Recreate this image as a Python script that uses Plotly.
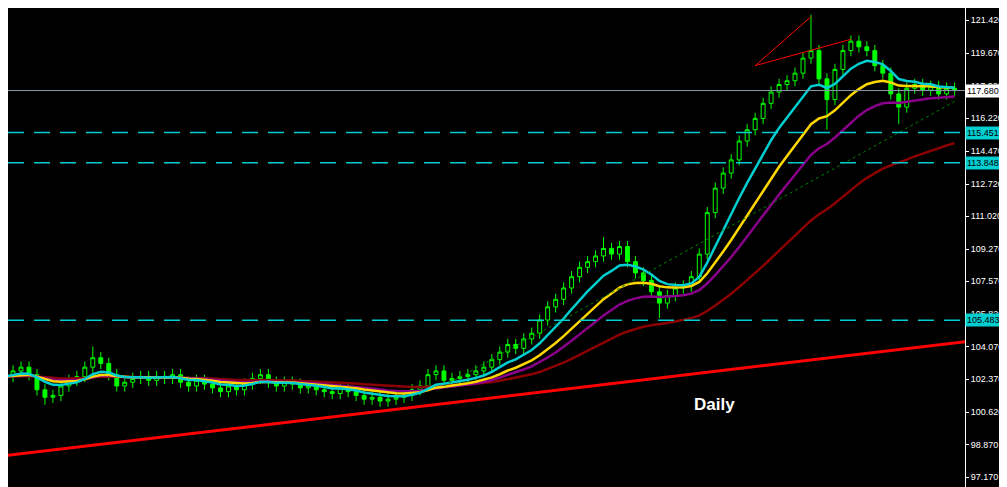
import plotly.graph_objects as go
import pandas as pd

closes = [102.5,102.8,103.0,102.6,101.8,101.4,101.5,
          102.0,102.3,102.5,103.0,103.5,103.2,
          102.6,102.0,102.2,102.4,102.5,102.3,
          102.5,102.4,102.6,102.2,102.0,102.3,
          102.1,101.9,101.7,102.0,101.8,102.1,
          102.4,102.6,102.2,102.0,102.2,102.1,101.9,
          102.0,101.8,101.7,101.6,101.9,101.7,
          101.5,101.3,101.4,101.2,101.3,101.4,
          101.5,101.8,102.0,102.6,102.8,
          102.3,102.4,102.5,102.6,102.8,
          103.0,103.4,103.8,104.2,104.0,
          104.5,104.8,105.5,106.2,106.6,
          107.2,107.8,108.3,108.6,108.9,109.3,
          109.0,109.4,108.6,108.0,107.6,
          107.0,106.4,106.8,107.2,
          107.3,107.8,109.0,111.2,
          112.5,113.3,114.0,115.0,115.6,
          116.2,117.0,117.6,118.0,118.2,
          118.6,119.4,119.8,118.3,117.2,
          118.8,119.8,120.3,120.0,119.8,
          119.0,118.6,117.5,116.8,117.8,
          118.0,117.7,117.9,117.5,117.8,117.68]
first_open = 102.3
wick = 0.3
spike_high = {101: 121.7, 11: 104.1, 75: 109.9}
spike_low = {103: 115.6, 112: 115.9, 82: 105.6, 5: 101.0}

levels_cyan = [115.451, 113.848, 105.483]
last_price = 117.680
tick_vals = [97.17, 98.87, 100.62, 102.37, 104.07, 105.82, 107.57, 109.27,
             111.02, 112.72, 114.47, 116.22, 117.92, 119.67, 121.42]
trend_red = [(-1, 98.25), (120.5, 104.36)]
trend_green = [(55, 102.0), (119, 117.1)]
thin_red = [[(94, 119.0), (101, 121.6)], [(94, 119.0), (106, 120.4)]]
ma_spans = [(45, "#8b0000"), (22, "#8b008b"), (15, "#ffd700"), (8, "#00ced1")]

n = len(closes)
x = list(range(n))
opens = [first_open] + closes[:-1]
highs = [spike_high.get(i, max(o, c) + wick) for i, (o, c) in enumerate(zip(opens, closes))]
lows = [spike_low.get(i, min(o, c) - wick) for i, (o, c) in enumerate(zip(opens, closes))]
s = pd.Series(closes)
FONT = "Liberation Sans, Arial"

fig = go.Figure()
fig.add_trace(go.Candlestick(x=x, open=opens, high=highs, low=lows, close=closes,
    increasing=dict(line=dict(color="#00ff00", width=1), fillcolor="black"),
    decreasing=dict(line=dict(color="#00ff00", width=1), fillcolor="#00ff00"),
    whiskerwidth=0, showlegend=False, hoverinfo="skip"))
for span, col in ma_spans:
    fig.add_trace(go.Scatter(x=x, y=s.ewm(span=span, adjust=False).mean(), mode="lines",
                             line=dict(color=col, width=2.5), showlegend=False))
fig.add_trace(go.Scatter(x=[p[0] for p in trend_red], y=[p[1] for p in trend_red], mode="lines",
                         line=dict(color="#ff0000", width=3), showlegend=False))
fig.add_trace(go.Scatter(x=[p[0] for p in trend_green], y=[p[1] for p in trend_green], mode="lines",
                         line=dict(color="#008000", width=1, dash="dot"), showlegend=False))
for seg in thin_red:
    fig.add_trace(go.Scatter(x=[p[0] for p in seg], y=[p[1] for p in seg], mode="lines",
                             line=dict(color="#ff0000", width=1), showlegend=False))
for lv in levels_cyan:
    fig.add_hline(y=lv, line=dict(color="#00ced1", width=1.5, dash="16px,10px"))
    fig.add_annotation(x=1, xref="paper", y=lv, yref="y", text=f"{lv:.3f}", showarrow=False,
                       xanchor="left", bgcolor="#00ced1", font=dict(color="black", size=9, family=FONT),
                       borderpad=1, xshift=0)
fig.add_hline(y=last_price, line=dict(color="#8899aa", width=1))
fig.add_annotation(x=1, xref="paper", y=last_price, yref="y", text=f"{last_price:.3f}", showarrow=False,
                   xanchor="left", bgcolor="white", font=dict(color="black", size=9, family=FONT),
                   borderpad=1, xshift=0)
fig.add_annotation(x=0.762, xref="paper", y=101.0, yref="y", text="<b>Daily</b>", showarrow=False,
                   font=dict(color="white", size=17, family="Arial"))

fig.update_layout(width=999, height=479, margin=dict(l=0, r=42, t=0, b=0, autoexpand=False),
                  paper_bgcolor="black", plot_bgcolor="black",
                  xaxis=dict(range=[0.37, 120.3], visible=False, rangeslider=dict(visible=False)),
                  yaxis=dict(range=[96.64, 122.06], side="right", showgrid=False, zeroline=False,
                             automargin=False,
                             showline=True, linecolor="white", ticks="outside", tickcolor="white", ticklen=3,
                             tickvals=tick_vals, ticktext=[f"{v:.3f}" for v in tick_vals],
                             tickfont=dict(color="white", size=9, family=FONT)))
fig.write_html("out.html")
